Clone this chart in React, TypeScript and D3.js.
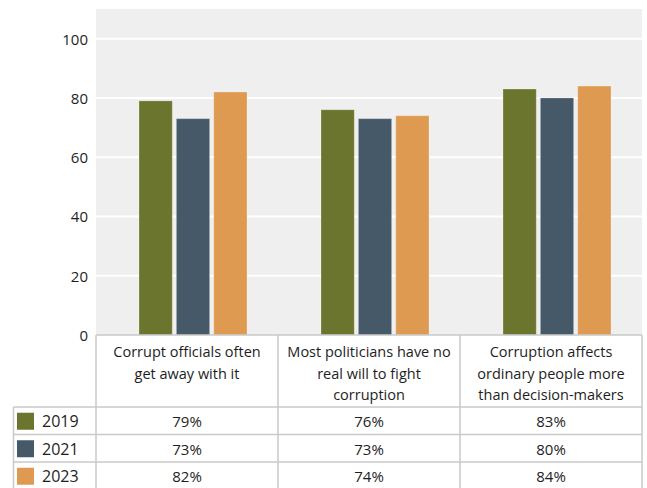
import React from "react";
import * as d3 from "d3";

// Survey statements (x categories), broken into display lines
const categories = [
  "Corrupt officials often get away with it",
  "Most politicians have no real will to fight corruption",
  "Corruption affects ordinary people more than decision-makers",
];
const categoryLines = [
  ["Corrupt officials often", "get away with it"],
  ["Most politicians have no", "real will to fight", "corruption"],
  ["Corruption affects", "ordinary people more", "than decision-makers"],
];

const years = ["2019", "2021", "2023"];
const values2019 = [79, 76, 83];
const values2021 = [73, 73, 80];
const values2023 = [82, 74, 84];
const seriesValues = [values2019, values2021, values2023];
const seriesColors = ["#6b752d", "#465968", "#df9a52"];

const yTicks = [0, 20, 40, 60, 80, 100];

const W = 647;
const H = 488;
const plotLeft = 96;
const plotRight = 642;
const plotTop = 9;
const plotBottom = 335;
const headerBottom = 407;
const rowH = 27.5;
const legendLeft = 13.5;
const lineColor = "#c9c9c9";
const textColor = "#1e1e1e";
const font = "'Open Sans', 'Noto Sans', sans-serif";

export default function App() {
  const y = d3.scaleLinear().domain([0, 110]).range([plotBottom, plotTop]);
  const x0 = d3.scaleBand<string>().domain(categories).range([plotLeft, plotRight]);
  const groupWidth = 108;
  const groupShift = 6;
  const x1 = d3
    .scaleBand<string>()
    .domain(years)
    .range([0, groupWidth])
    .paddingInner(0.11);
  const groupStart = (c: string) =>
    (x0(c) ?? 0) + (x0.bandwidth() - groupWidth) / 2 + groupShift;

  const rowTop = (i: number) => headerBottom + i * rowH;
  const colEdges = [plotLeft, ...categories.map((c) => (x0(c) ?? 0) + x0.bandwidth())];

  return (
    <svg
      width={W}
      height={H}
      style={{ position: "absolute", left: 0, top: 0, background: "#fff" }}
      fontFamily={font}
    >
      {/* plot background */}
      <rect
        x={plotLeft}
        y={plotTop}
        width={plotRight - plotLeft}
        height={plotBottom - plotTop}
        fill="#efefef"
      />
      {/* gridlines */}
      {yTicks
        .filter((t) => t > 0)
        .map((t) => (
          <line
            key={t}
            x1={plotLeft}
            x2={plotRight}
            y1={y(t)}
            y2={y(t)}
            stroke="#fff"
            strokeWidth={2}
          />
        ))}
      {/* y tick labels */}
      {yTicks.map((t) => (
        <text
          key={t}
          x={88}
          y={y(t)}
          textAnchor="end"
          dominantBaseline="central"
          fontSize={15}
          fill={textColor}
        >
          {t}
        </text>
      ))}
      {/* bars */}
      {categories.map((c, ci) =>
        years.map((yr, si) => {
          const v = seriesValues[si][ci];
          return (
            <rect
              key={c + yr}
              x={groupStart(c) + (x1(yr) ?? 0)}
              y={y(v)}
              width={x1.bandwidth()}
              height={y(0) - y(v)}
              fill={seriesColors[si]}
              stroke="#ffffff"
              strokeOpacity={0.25}
              strokeWidth={1}
            />
          );
        })
      )}
      {/* table: header area */}
      <rect
        x={plotLeft}
        y={plotBottom}
        width={plotRight - plotLeft}
        height={H - plotBottom + 2}
        fill="#fff"
      />
      <rect
        x={legendLeft}
        y={headerBottom}
        width={plotLeft - legendLeft}
        height={H - headerBottom + 2}
        fill="#fff"
      />
      {categoryLines.map((lines, ci) => {
        const cx = (x0(categories[ci]) ?? 0) + x0.bandwidth() / 2;
        return (
          <text
            key={ci}
            textAnchor="middle"
            fontSize={14.5}
            fill={textColor}
          >
            {lines.map((ln, li) => (
              <tspan key={li} x={cx} y={plotBottom + 22 + li * 21.5}>
                {ln}
              </tspan>
            ))}
          </text>
        );
      })}
      {/* table rows: legend + values */}
      {years.map((yr, si) => {
        const top = rowTop(si);
        const mid = top + rowH / 2 + 0.5;
        return (
          <g key={yr}>
            <rect
              x={17}
              y={mid - 8.5}
              width={17}
              height={17}
              fill={seriesColors[si]}
            />
            <text
              x={42}
              y={mid}
              dominantBaseline="central"
              fontSize={16}
              fill={textColor}
            >
              {yr}
            </text>
            {categories.map((c, ci) => (
              <text
                key={c}
                x={(x0(c) ?? 0) + x0.bandwidth() / 2}
                y={mid}
                textAnchor="middle"
                dominantBaseline="central"
                fontSize={15}
                fill={textColor}
              >
                {seriesValues[si][ci]}%
              </text>
            ))}
          </g>
        );
      })}
      {/* table grid lines */}
      <line
        x1={plotLeft}
        x2={plotRight}
        y1={plotBottom}
        y2={plotBottom}
        stroke={lineColor}
        strokeWidth={1.5}
      />
      {[0, 1, 2, 3].map((i) => (
        <line
          key={"h" + i}
          x1={legendLeft}
          x2={plotRight}
          y1={rowTop(i)}
          y2={rowTop(i)}
          stroke={lineColor}
          strokeWidth={1.5}
        />
      ))}
      {colEdges.map((xe, i) => (
        <line
          key={"v" + i}
          x1={xe}
          x2={xe}
          y1={plotBottom}
          y2={H + 2}
          stroke={lineColor}
          strokeWidth={1.5}
        />
      ))}
      <line
        x1={legendLeft}
        x2={legendLeft}
        y1={headerBottom}
        y2={H + 2}
        stroke={lineColor}
        strokeWidth={1.5}
      />
    </svg>
  );
}
